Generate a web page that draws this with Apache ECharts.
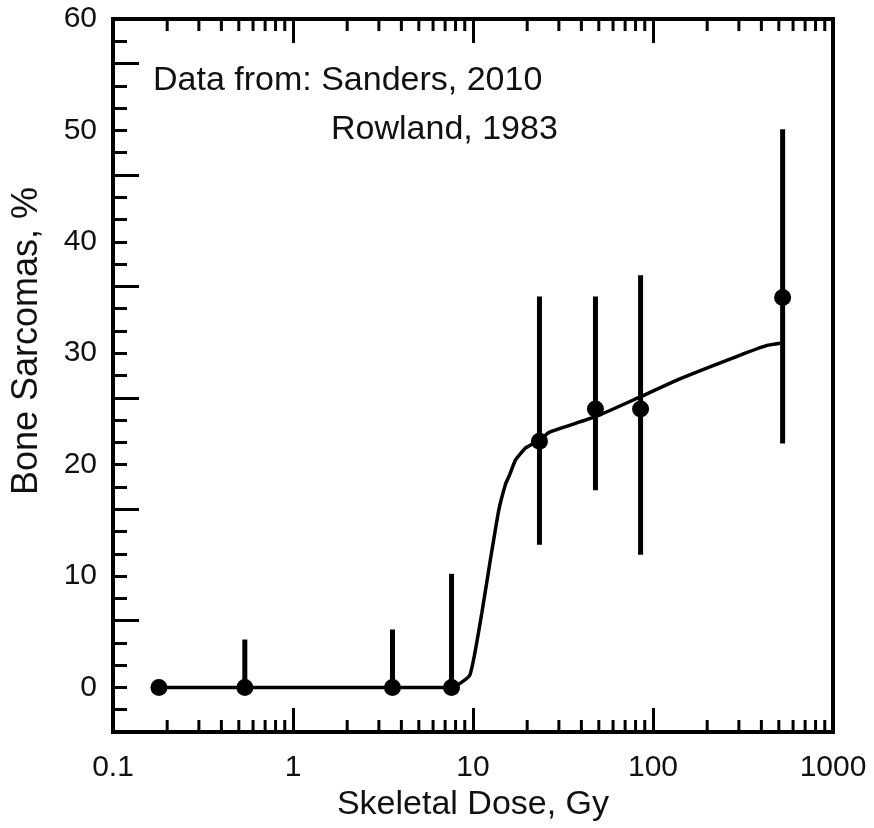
<!DOCTYPE html>
<html><head><meta charset="utf-8">
<script src="https://cdn.jsdelivr.net/npm/echarts@6/dist/echarts.min.js"></script>
<style>html,body{margin:0;padding:0;background:#fff}#c{width:874px;height:828px}</style>
</head><body><div id="c"></div>
<script>
// Measured points (Sanders 2010 / Rowland 1983)
const doses   = [0.18, 0.54, 3.57, 7.6, 23.4, 47.9, 85.3, 525];
const percent = [0, 0, 0, 0, 22.1, 25.0, 25.0, 35.0];
const errLow  = [0, 0, 0, 0, 12.8, 17.7, 11.9, 21.9];
const errHigh = [0, 4.3, 5.2, 10.2, 35.1, 35.1, 37.0, 50.1];
// Fitted curve
const curveX = [0.18, 7.6, 9.6, 11.2, 12.5, 13.9, 15.2, 15.8, 17.2, 18.4, 19.6, 23.4, 26.5, 47.9, 85.3, 141, 291, 430, 510];
const curveY = [0, 0, 1.1, 6.7, 11.5, 15.9, 18.3, 18.9, 20.4, 21.0, 21.5, 22.2, 22.9, 24.3, 26.1, 27.7, 29.7, 30.7, 30.9];
// Axis ticks
const xMajorTicks = [0.1, 1, 10, 100, 1000];
const xTickLabels = ['0.1', '1', '10', '100', '1000'];
const xMinorTicks = [0.2,0.3,0.4,0.5,0.6,0.7,0.8,0.9, 2,3,4,5,6,7,8,9, 20,30,40,50,60,70,80,90, 200,300,400,500,600,700,800,900];
const yMin = -4, yMax = 60;

const FONT = 'Liberation Sans';
const chart = echarts.init(document.getElementById('c'), null, {renderer: 'canvas'});

const xLabelFmt = v => {
  for (let i = 0; i < xMajorTicks.length; i++) {
    if (Math.abs(Math.log10(v) - Math.log10(xMajorTicks[i])) < 1e-6) return xTickLabels[i];
  }
  return '';
};

const baseX = {
  type: 'log', logBase: 10, min: 0.1, max: 1000,
  axisLine: {show: false, onZero: false},
  splitLine: {show: false},
  axisTick: {show: true, inside: true, length: 24, lineStyle: {color: '#000', width: 3}},
  minorTick: {show: false}
};

chart.setOption({
  animation: false,
  backgroundColor: '#fff',
  grid: {left: 113, right: 41, top: 19, bottom: 96, show: true, borderColor: '#000', borderWidth: 4, backgroundColor: 'transparent'},
  xAxis: [
    Object.assign({}, baseX, {
      position: 'bottom',
      axisLabel: {show: true, formatter: xLabelFmt, fontFamily: FONT, fontSize: 30, color: '#111', margin: 21},
      name: 'Skeletal Dose, Gy', nameLocation: 'middle', nameGap: 46,
      nameTextStyle: {fontFamily: FONT, fontSize: 34, color: '#111'}
    }),
    Object.assign({}, baseX, {position: 'top', axisLabel: {show: false}})
  ],
  yAxis: [
    {
      type: 'value', min: yMin, max: yMax, interval: 2, position: 'left',
      axisLine: {show: false, onZero: false}, splitLine: {show: false},
      axisTick: {show: true, inside: true, length: 14, lineStyle: {color: '#000', width: 3}},
      axisLabel: {formatter: v => (v % 10 === 0 ? String(v) : ''), fontFamily: FONT, fontSize: 30, color: '#111', margin: 16}
    },
    {
      type: 'value', min: yMin, max: yMax, interval: 10, position: 'left',
      axisLine: {show: false, onZero: false}, splitLine: {show: false},
      axisTick: {show: true, inside: true, length: 26, lineStyle: {color: '#000', width: 3}},
      axisLabel: {show: false}
    }
  ],
  graphic: [
    {type: 'text', left: 153, top: 64, style: {text: 'Data from: Sanders, 2010', font: '34px "Liberation Sans"', fill: '#111'}},
    {type: 'text', left: 331, top: 113, style: {text: 'Rowland, 1983', font: '34px "Liberation Sans"', fill: '#111'}},
    {type: 'text', x: 27, y: 341, rotation: Math.PI / 2,
     style: {text: 'Bone Sarcomas, %', font: '36px "Liberation Sans"', fill: '#111', align: 'center', verticalAlign: 'middle'}}
  ],
  series: [
    {
      type: 'custom', name: 'minorTicks', xAxisIndex: 0, yAxisIndex: 0, clip: false, silent: true,
      data: xMinorTicks.map(v => [v, yMin]),
      encode: {x: 0, y: 1},
      renderItem: (params, api) => {
        const x = api.value(0);
        const pb = api.coord([x, yMin]);
        const pt = api.coord([x, yMax]);
        return {type: 'group', children: [
          {type: 'line', shape: {x1: pb[0], y1: pb[1], x2: pb[0], y2: pb[1] - 12}, style: {stroke: '#000', lineWidth: 3}},
          {type: 'line', shape: {x1: pt[0], y1: pt[1], x2: pt[0], y2: pt[1] + 12}, style: {stroke: '#000', lineWidth: 3}}
        ]};
      }
    },
    {
      type: 'line', name: 'fit', xAxisIndex: 0, yAxisIndex: 0,
      data: curveX.map((x, i) => [x, curveY[i]]),
      symbol: 'none', smooth: 0.15,
      lineStyle: {color: '#000', width: 3.5}
    },
    {
      type: 'custom', name: 'errors', xAxisIndex: 0, yAxisIndex: 0, clip: false,
      data: doses.map((x, i) => [x, errLow[i], errHigh[i]]),
      encode: {x: 0, y: [1, 2]},
      renderItem: (params, api) => {
        const x = api.value(0);
        const p1 = api.coord([x, api.value(1)]);
        const p2 = api.coord([x, api.value(2)]);
        return {type: 'line', shape: {x1: p1[0], y1: p1[1], x2: p2[0], y2: p2[1]}, style: {stroke: '#000', lineWidth: 5}};
      }
    },
    {
      type: 'scatter', name: 'data', xAxisIndex: 0, yAxisIndex: 0,
      data: doses.map((x, i) => [x, percent[i]]),
      symbol: 'circle', symbolSize: 17,
      itemStyle: {color: '#000', opacity: 1}
    }
  ]
});
</script>
</body></html>
